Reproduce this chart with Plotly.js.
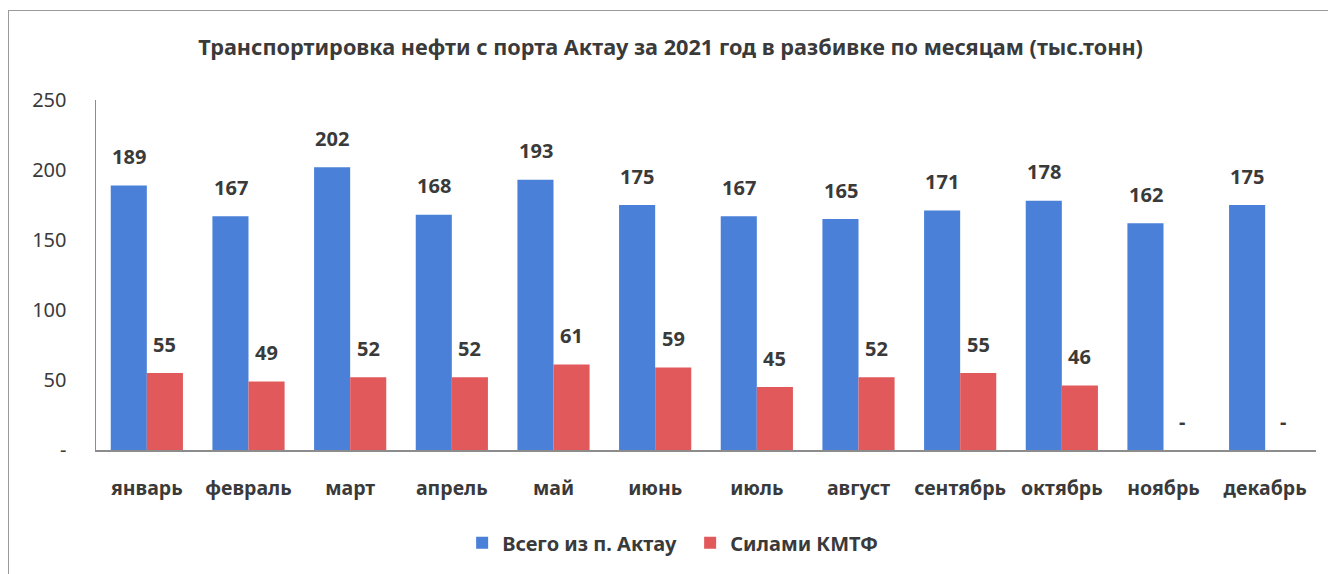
<!DOCTYPE html>
<html>
<head>
<meta charset="utf-8">
<script src="https://cdn.plot.ly/plotly-3.0.1.min.js"></script>
<style>
  html, body { margin: 0; padding: 0; background: #fff; }
  #frame { position: absolute; left: 8px; top: 10px; width: 1330px; height: 580px;
           border-left: 1px solid #9a9a9a; border-top: 1px solid #9a9a9a; }
  #chart { position: absolute; left: 0; top: 0; width: 1328px; height: 574px; }
</style>
</head>
<body>
<div id="frame"></div>
<div id="chart"></div>
<script>
const months = ["январь","февраль","март","апрель","май","июнь","июль","август","сентябрь","октябрь","ноябрь","декабрь"];
const totalAktau = [189, 167, 202, 168, 193, 175, 167, 165, 171, 178, 162, 175];
const kmtf = [55, 49, 52, 52, 61, 59, 45, 52, 55, 46, 0, 0];
const seriesNames = ["Всего из п. Актау", "Силами КМТФ"];
const yTickVals = [0, 50, 100, 150, 200, 250];
const yTickText = ["-", "50", "100", "150", "200", "250"];
const titleText = "Транспортировка нефти с порта Актау за 2021 год в разбивке по месяцам (тыс.тонн)";

const blue = "#4a80d8";
const red = "#e2595b";
const textCol = "#3a3a3a";
const FONT = "Noto Sans, Liberation Sans, sans-serif";

const fmt = v => v === 0 ? "-" : String(v);

const traces = [
  { type: "bar", name: seriesNames[0], x: months, y: totalAktau,
    marker: { color: blue }, hoverinfo: "skip" },
  { type: "bar", name: seriesNames[1], x: months, y: kmtf,
    marker: { color: red }, hoverinfo: "skip" }
];

const annotations = [];
const shift = 18;
totalAktau.forEach((v, i) => annotations.push({
  x: months[i], y: v, xref: "x", yref: "y", text: fmt(v), showarrow: false,
  xshift: -shift, yshift: 29, yanchor: "middle",
  font: { family: FONT, size: 20, color: textCol, weight: "bold" }
}));
kmtf.forEach((v, i) => annotations.push({
  x: months[i], y: v, xref: "x", yref: "y", text: fmt(v), showarrow: false,
  xshift: shift, yshift: 29, yanchor: "middle",
  font: { family: FONT, size: 20, color: textCol, weight: "bold" }
}));

const layout = {
  width: 1328, height: 574,
  margin: { l: 96, r: 12, t: 100, b: 122 },
  paper_bgcolor: "rgba(0,0,0,0)", plot_bgcolor: "rgba(0,0,0,0)",
  font: { family: FONT, color: textCol },
  title: { text: titleText, x: 0.505, xanchor: "center", y: 0.917, yanchor: "middle",
           font: { family: FONT, size: 21.7, color: textCol, weight: "bold" } },
  barmode: "group", bargap: 0.29, bargroupgap: 0,
  showlegend: true,
  legend: { orientation: "h", x: 0.487, xanchor: "center", y: -0.265, yanchor: "middle",
            font: { family: FONT, size: 20, color: textCol, weight: "bold" },
            itemwidth: 30, tracegroupgap: 0, itemclick: false, entrywidth: 183 },
  xaxis: { type: "category", showgrid: false, showline: true, linecolor: "#8c8c8c", linewidth: 1.5,
           ticks: "", ticklabelstandoff: 20,
           tickfont: { family: FONT, size: 19.5, color: textCol, weight: "bold" } },
  yaxis: { range: [0, 250], showgrid: false, zeroline: false, showline: true,
           linecolor: "#8c8c8c", linewidth: 1.5, ticks: "",
           tickvals: yTickVals, ticktext: yTickText, ticklabelstandoff: 24,
           tickfont: { family: FONT, size: 20, color: textCol } },
  annotations: annotations
};

Plotly.newPlot("chart", traces, layout, { displayModeBar: false, staticPlot: true });
</script>
</body>
</html>
